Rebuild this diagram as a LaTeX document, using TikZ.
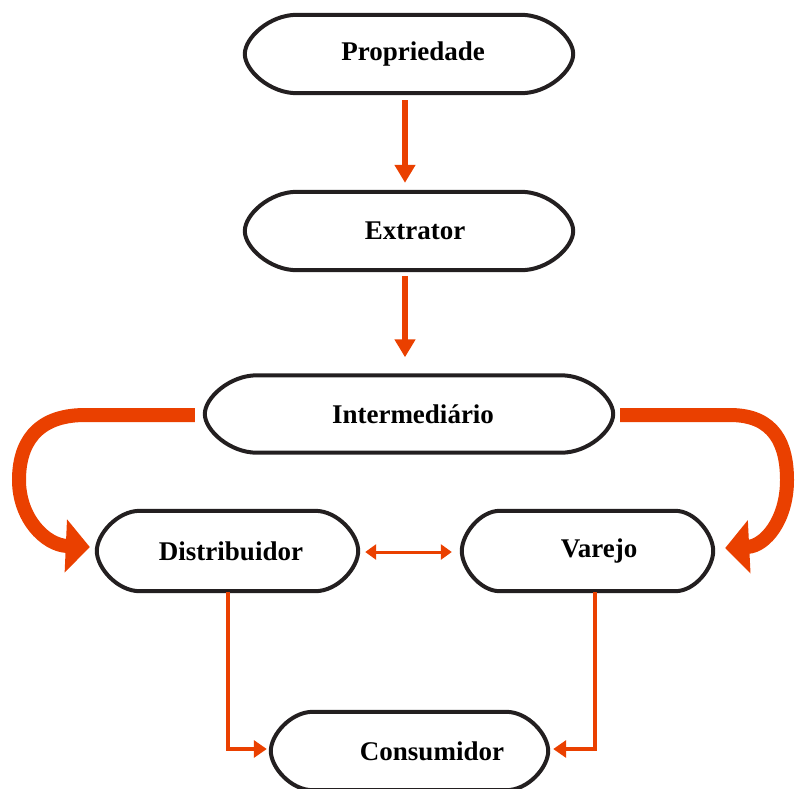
\documentclass[tikz,border=0pt]{standalone}
\usepackage{fontspec}
\setmainfont{Liberation Serif}
\usetikzlibrary{arrows.meta,calc}
\definecolor{flow}{RGB}{234,64,0}
\definecolor{ink}{RGB}{35,31,32}
\begin{document}
\begin{tikzpicture}[x=1pt,y=-1pt,
  box/.style={inner sep=0pt, font=\fontsize{27}{30}\selectfont\bfseries, text=black},
  capsule/.style={draw=ink, line width=4pt, line join=round},
  flowthin/.style={draw=flow, line width=#1},
  fat/.style={draw=flow, line width=14pt, -{Triangle[length=24pt,width=52pt]}},
  tipS/.style={-{Triangle[length=18pt,width=20pt]}},
  tipM/.style={-{Triangle[length=13pt,width=17pt]}},
  tipD/.style={{Triangle[length=11pt,width=15pt]}-{Triangle[length=11pt,width=15pt]}}]
\useasboundingbox (0,0) rectangle (795,788);

% boxes (text shifted right where the label sits off-centre)
\node[box, minimum width=328pt, minimum height=78pt] (prop)   at (409,54)    {\hspace*{8pt}Propriedade};
\node[box, minimum width=328pt, minimum height=78pt] (extr)   at (409,231)   {\hspace*{12pt}Extrator};
\node[box, minimum width=408pt, minimum height=77pt] (inter)  at (409,414)   {\hspace*{8pt}Intermediário};
\node[box, minimum width=261pt, minimum height=80pt] (distr)  at (227.5,551) {\hspace*{7pt}Distribuidor};
\node[box, minimum width=251pt, minimum height=80pt] (varejo) at (587.5,551) {\hspace*{23pt}Varejo};
\node[box, minimum width=277pt, minimum height=78pt] (cons)   at (409.5,751) {\hspace*{45pt}Consumidor};

% capsule outlines with slightly pointed rounded ends
\foreach \n/\c in {prop/52, extr/52, inter/52, distr/43, varejo/38, cons/42} {
  \draw[capsule]
    ($(\n.north west)+(\c*1pt,0pt)$) -- ($(\n.north east)+(-\c*1pt,0pt)$)
    .. controls ($(\n.north east)+(-0.48*\c*1pt,0pt)$) and ($(\n.east)!0.42!(\n.north east)$) .. (\n.east)
    .. controls ($(\n.east)!0.42!(\n.south east)$) and ($(\n.south east)+(-0.48*\c*1pt,0pt)$) .. ($(\n.south east)+(-\c*1pt,0pt)$)
    -- ($(\n.south west)+(\c*1pt,0pt)$)
    .. controls ($(\n.south west)+(0.48*\c*1pt,0pt)$) and ($(\n.west)!0.42!(\n.south west)$) .. (\n.west)
    .. controls ($(\n.west)!0.42!(\n.north west)$) and ($(\n.north west)+(0.48*\c*1pt,0pt)$) .. cycle;
}

% straight connectors down the chain
\draw[flowthin=6pt, tipS] ($(prop.south)+(-4pt,-7pt)$) -- ($(extr.north)+(-4pt,9pt)$);
\draw[flowthin=6pt, tipS] ($(extr.south)+(-4pt,-6pt)$) -- ($(inter.north)+(-4pt,18pt)$);

% distribuidor <-> varejo
\draw[flowthin=3pt, tipD] ($(distr.east)+(7pt,-1pt)$) -- ($(varejo.west)+(-10pt,-1pt)$);

% branches into consumidor
\coordinate (cl) at ($(cons.west)+(-4pt,2pt)$);
\coordinate (cr) at ($(cons.east)+(5pt,2pt)$);
\draw[flowthin=4pt, tipM] ($(distr.south)+(0pt,-1pt)$) |- (cl);
\draw[flowthin=4pt, tipM] ($(varejo.south)+(7.5pt,-1pt)$) |- (cr);

% wide curved arrows from intermediário
\coordinate (dl) at ($(distr.west)+(-7pt,4pt)$);
\coordinate (vr) at ($(varejo.east)+(12pt,3pt)$);
\draw[fat] ($(inter.west)+(-10pt,-1pt)$) -- (85,415)
  .. controls (35,415) and (19,445) .. (19,480)
  .. controls (19,518) and (45,545) .. (dl);
\draw[fat] ($(inter.east)+(7pt,-1pt)$) -- (730,415)
  .. controls (775,415) and (787,445) .. (787,480)
  .. controls (787,520) and (765,546) .. (vr);
\end{tikzpicture}
\end{document}
